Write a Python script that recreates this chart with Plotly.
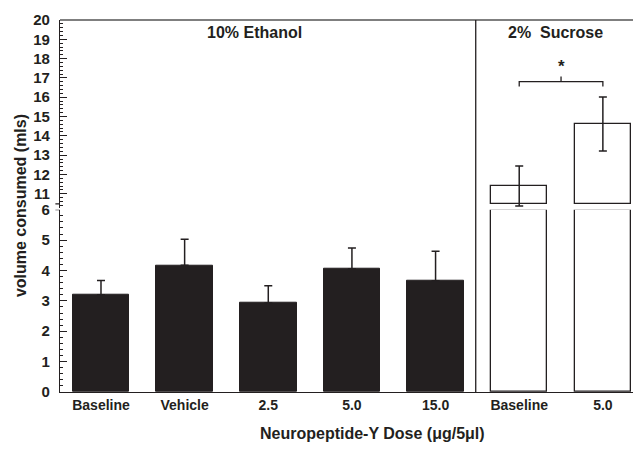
import plotly.graph_objects as go

# ---- data ----
categories = ["Baseline", "Vehicle", "2.5", "5.0", "15.0", "Baseline ", "5.0 "]
tick_labels = ["Baseline", "Vehicle", "2.5", "5.0", "15.0", "Baseline", "5.0"]
ethanol_means = [3.2, 4.17, 2.93, 4.06, 3.66]
ethanol_sem = [0.47, 0.86, 0.57, 0.68, 0.97]
sucrose_means = [11.40, 14.61]
sucrose_sem = [1.04, 1.40]
lower_ticks = [0, 1, 2, 3, 4, 5, 6]
upper_ticks = [11, 12, 13, 14, 15, 16, 17, 18, 19, 20]

# axis break settings
LOWER_TOP = 6
BREAK_BASE = 10.48
UPPER_RANGE = [10.25, 20]

FONT = "Liberation Sans"
INK = "#231f20"

xpos = list(range(len(categories)))
eth_x = xpos[:5]
suc_x = xpos[5:]
bar_w = 0.676

fig = go.Figure()

# ethanol bars (lower axis)
fig.add_trace(go.Bar(
    x=eth_x, y=ethanol_means, width=bar_w,
    marker=dict(color=INK, line=dict(color=INK, width=1)),
    error_y=dict(type="data", array=ethanol_sem, arrayminus=[0]*5, symmetric=False,
                 color=INK, thickness=1.5, width=4),
    xaxis="x", yaxis="y", showlegend=False,
))

# sucrose bars: lower part (clipped at break)
fig.add_trace(go.Bar(
    x=suc_x, y=[min(v, LOWER_TOP) for v in sucrose_means], width=bar_w,
    marker=dict(color="white", line=dict(color=INK, width=1.3)),
    xaxis="x", yaxis="y", showlegend=False,
))

# sucrose bars: upper part
fig.add_trace(go.Bar(
    x=suc_x, y=[v - BREAK_BASE for v in sucrose_means], base=[BREAK_BASE]*2, width=bar_w,
    marker=dict(color="white", line=dict(color=INK, width=1.3)),
    error_y=dict(type="data", array=sucrose_sem, symmetric=True,
                 color=INK, thickness=1.5, width=4),
    xaxis="x", yaxis="y2", showlegend=False,
))

# significance bracket
bx0, bx1 = suc_x[0], suc_x[1]
fig.add_shape(type="path",
              path=f"M {bx0} 16.55 L {bx0} 16.81 L {bx1} 16.81 L {bx1} 16.55",
              xref="x", yref="y2", line=dict(color=INK, width=1.3))
fig.add_shape(type="line", x0=(bx0 + bx1) / 2, x1=(bx0 + bx1) / 2, y0=16.81, y1=17.07,
              xref="x", yref="y2", line=dict(color=INK, width=1.3))
fig.add_annotation(x=(bx0 + bx1) / 2, y=17.3, xref="x", yref="y2", text="<b>*</b>",
                   showarrow=False, font=dict(size=17, color=INK, family=FONT),
                   xanchor="center", yanchor="bottom", yshift=-6)

# top border and divider
fig.add_shape(type="line", xref="paper", yref="paper", x0=0, x1=1.01, y0=1, y1=1,
              line=dict(color="#555", width=1.3))
fig.add_shape(type="line", xref="x", yref="paper", x0=4.48, x1=4.48, y0=0, y1=1,
              line=dict(color=INK, width=1.3))

# axis-break marks
fig.add_shape(type="line", xref="paper", yref="y2", x0=-0.008, x1=0, y0=BREAK_BASE, y1=BREAK_BASE,
              line=dict(color=INK, width=1.3))
fig.add_shape(type="line", xref="paper", yref="y", x0=-0.008, x1=0, y0=LOWER_TOP, y1=LOWER_TOP,
              line=dict(color=INK, width=1.3))

# section labels
fig.add_annotation(x=0.337, y=0.966, xref="paper", yref="paper", text="<b>10% Ethanol</b>",
                   showarrow=False, font=dict(size=16, color=INK, family=FONT),
                   xanchor="center", yanchor="middle")
fig.add_annotation(x=0.858, y=0.966, xref="paper", yref="paper", text="<b>2%  Sucrose</b>",
                   showarrow=False, font=dict(size=16, color=INK, family=FONT),
                   xanchor="center", yanchor="middle")

# axis titles
fig.add_annotation(x=0.54, y=-0.112, xref="paper", yref="paper",
                   text="<b>Neuropeptide-Y Dose (μg/5μl)</b>",
                   showarrow=False, font=dict(size=16, color=INK, family=FONT),
                   xanchor="center", yanchor="middle")
fig.add_annotation(x=-0.069, y=0.50, xref="paper", yref="paper",
                   text="<b>volume consumed (mls)</b>", textangle=-90,
                   showarrow=False, font=dict(size=16, color=INK, family=FONT),
                   xanchor="center", yanchor="middle")

xtickfont = dict(size=14, color=INK, family=FONT, weight="bold")
ytickfont = dict(size=15, color=INK, family=FONT, weight="bold")

fig.update_layout(
    width=633, height=442,
    margin=dict(l=52, r=3, t=10, b=58),
    paper_bgcolor="white", plot_bgcolor="white",
    bargap=0,
    barmode="overlay",
    xaxis=dict(range=[-0.49, 6.42], tickmode="array", tickvals=xpos, ticktext=tick_labels,
               showline=True, linecolor=INK, linewidth=1.3, ticks="", showgrid=False,
               zeroline=False, tickfont=xtickfont, anchor="y"),
    yaxis=dict(domain=[0, 0.490], range=[0, LOWER_TOP], tickmode="array", tickvals=lower_ticks,
               showline=True, linecolor=INK, linewidth=1.3, ticks="inside", ticklen=7,
               tickcolor=INK, tickwidth=1,
               minor=dict(dtick=0.2, ticks="inside", ticklen=3, tickcolor=INK, tickwidth=1),
               showgrid=False, zeroline=False, tickfont=ytickfont, ticklabelstandoff=6),
    yaxis2=dict(domain=[0.494, 1], range=UPPER_RANGE, tickmode="array", tickvals=upper_ticks,
                showline=True, linecolor=INK, linewidth=1.3, ticks="inside", ticklen=7,
                tickcolor=INK, tickwidth=1,
                minor=dict(dtick=0.2, ticks="inside", ticklen=3, tickcolor=INK, tickwidth=1),
                showgrid=False, zeroline=False, tickfont=ytickfont, anchor="x", ticklabelstandoff=6),
)

fig.write_html("out.html")
